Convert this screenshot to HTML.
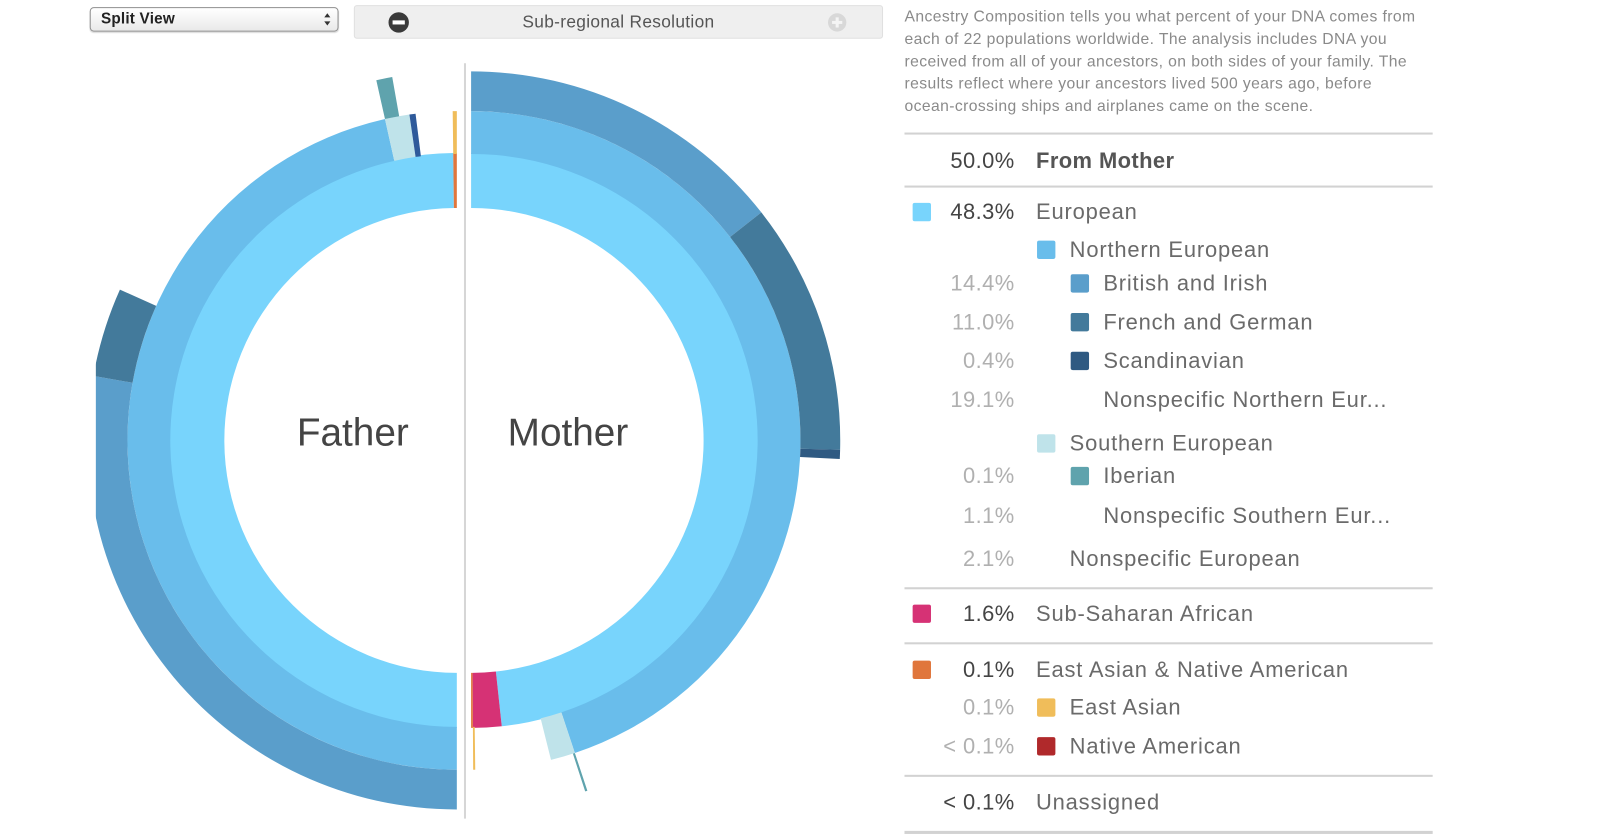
<!DOCTYPE html>
<html><head><meta charset="utf-8">
<style>
html,body{margin:0;padding:0;background:#fff;width:1600px;height:836px;overflow:hidden;font-family:"Liberation Sans",sans-serif}
#wrap{position:absolute;left:0;top:0;width:1569px;height:820px;transform:scale(1.0197,1.0195);transform-origin:0 0}
.abs{position:absolute;white-space:nowrap}
#select{left:88px;top:7px;width:242px;height:22px;border:1px solid #8e8e8e;border-radius:4px;background:linear-gradient(#fff,#e9e9e9);box-shadow:0 1px 1px rgba(0,0,0,.15)}
#select span{position:absolute;left:10px;top:2px;font-size:15px;color:#222;font-weight:bold;letter-spacing:0.2px}
#res{left:347px;top:5px;width:517px;height:31px;background:#efefef;border:1px solid #e0e0e0;border-radius:3px}
#res .t{position:absolute;left:0;width:517px;text-align:center;top:6px;font-size:17px;color:#555;letter-spacing:0.3px}
.desc{left:887px;font-size:15.4px;letter-spacing:0.4px;color:#8a8a8a}
.hr{position:absolute;left:887px;width:518px;height:2px;background:#d2d2d2}
.pct{position:absolute;width:100px;text-align:right;font-size:21.5px;letter-spacing:0.4px;left:895px}
.lab{position:absolute;font-size:21.5px;letter-spacing:0.8px;color:#6a6a6a;white-space:nowrap}
.sw{position:absolute;width:18px;height:18px;border-radius:2px}
</style></head><body>
<div id="wrap">
  <div id="select" class="abs"><span>Split View</span>
    <svg style="position:absolute;right:6px;top:3px" width="8" height="16"><path d="M4 2 L7 6 L1 6Z M4 14 L7 10 L1 10Z" fill="#333"/></svg>
  </div>
  <div id="res" class="abs">
    <svg style="position:absolute;left:32px;top:5px" width="22" height="22"><circle cx="11" cy="11" r="10" fill="#3a3a3a"/><rect x="5" y="9" width="12" height="4" fill="#fff"/></svg>
    <div class="t">Sub-regional Resolution</div>
    <svg style="position:absolute;left:463px;top:6px" width="20" height="20"><circle cx="10" cy="10" r="9" fill="#d8d8d8"/><rect x="5" y="8.5" width="10" height="3" fill="#f4f4f4"/><rect x="8.5" y="5" width="3" height="10" fill="#f4f4f4"/></svg>
  </div>

  <svg id="chart" class="abs" style="left:0;top:0" width="880" height="820">
    <defs><clipPath id="clipL"><rect x="94" y="0" width="800" height="820"/></clipPath></defs>
    <line x1="456" y1="62" x2="456" y2="803" stroke="#d6d6d6" stroke-width="2"/>
    <g id="rings" clip-path="url(#clipL)"></g>
    <text x="346" y="437" font-size="38" fill="#444" text-anchor="middle" font-family="Liberation Sans, sans-serif">Father</text>
    <text x="557" y="437" font-size="38" fill="#444" text-anchor="middle" font-family="Liberation Sans, sans-serif">Mother</text>
  </svg>

  <div class="abs desc" style="top:8px">Ancestry Composition tells you what percent of your DNA comes from</div>
  <div class="abs desc" style="top:30px">each of 22 populations worldwide. The analysis includes DNA you</div>
  <div class="abs desc" style="top:52px">received from all of your ancestors, on both sides of your family. The</div>
  <div class="abs desc" style="top:74px">results reflect where your ancestors lived 500 years ago, before</div>
  <div class="abs desc" style="top:96px">ocean-crossing ships and airplanes came on the scene.</div>

  <div class="hr" style="top:130px"></div>
  <div class="hr" style="top:182px"></div>
  <div class="hr" style="top:576px"></div>
  <div class="hr" style="top:630px"></div>
  <div class="hr" style="top:760px"></div>
  <div class="hr" style="top:815px;height:3px"></div>

  <div id="legend"></div>
</div>
<script>
// ---- chart data (percent of genome) ----
const motherRing1Labels = ["European","Sub-Saharan African","East Asian & Native American"];
const motherRing1Values = [48.3, 1.6, 0.1];
const motherRing1Colors = ["#78d4fc","#d63275","#e0763c"];
const motherRing2Labels = ["Northern European","Southern European","Nonspecific European","Sub-Saharan African","East Asian"];
const motherRing2Values = [44.9, 1.2, 2.1, 1.6, 0.1];
const motherRing2Colors = ["#69bdeb","#bfe3ea",null,null,"#f0bd5a"];
const motherRing3Labels = ["British and Irish","French and German","Scandinavian","Nonspecific Northern European","Iberian"];
const motherRing3Values = [14.4, 11.0, 0.4, 19.1, 0.1];
const motherRing3Colors = ["#5a9ecb","#437a9b","#2f5a82",null,"#5fa3ad"];

const fatherRing1Labels = ["European","East Asian & Native American"];
const fatherRing1Values = [49.8, 0.2];
const fatherRing1Colors = ["#78d4fc","#e0763c"];
const fatherRing2Labels = ["Northern European","Southern European","Scandinavian","Nonspecific European","East Asian"];
const fatherRing2Values = [46.5, 1.2, 0.3, 1.8, 0.2];
const fatherRing2Colors = ["#69bdeb","#bfe3ea","#2f5a9a",null,"#f0bd5a"];
const fatherRing3Labels = ["British and Irish","French and German","Nonspecific Northern European","Iberian"];
const fatherRing3Values = [27.8, 3.9, 14.8, 0.7];
const fatherRing3Colors = ["#5a9ecb","#437a9b",null,"#5fa3ad"];

const CY = 432, MCX = 462, FCX = 448;
const RADII = [[228,282],[281,323],[323,362]];
const angleScale = v => v / 50 * 180;

function pt(cx, r, deg, side){
  const a = deg*Math.PI/180;
  return [cx + side*r*Math.sin(a), CY - r*Math.cos(a)];
}
function arcPath(cx, r0, r1, a0, a1, side){
  const p1=pt(cx,r1,a0,side), p2=pt(cx,r1,a1,side), p3=pt(cx,r0,a1,side), p4=pt(cx,r0,a0,side);
  const large = Math.abs(a1-a0)>180?1:0;
  const sw1 = side>0 ? (a1>a0?1:0) : (a1>a0?0:1);
  const sw2 = 1-sw1;
  return `M${p1[0]},${p1[1]} A${r1},${r1} 0 ${large} ${sw1} ${p2[0]},${p2[1]} L${p3[0]},${p3[1]} A${r0},${r0} 0 ${large} ${sw2} ${p4[0]},${p4[1]} Z`;
}
const g = document.getElementById('rings');
function drawRing(labels, values, colors, ringIdx, cx, side, fromBottom, prefix){
  let cum = 0;
  values.forEach((v,i)=>{
    let a0 = angleScale(cum), a1 = angleScale(cum+v);
    cum += v;
    if(!colors[i]) return;
    if(fromBottom){ a0 = 180-a0; a1 = 180-a1; }
    const p = document.createElementNS('http://www.w3.org/2000/svg','path');
    p.setAttribute('d', arcPath(cx, RADII[ringIdx][0], RADII[ringIdx][1], a0, a1, side));
    p.setAttribute('fill', colors[i]);
    
    
    g.appendChild(p);
  });
}
drawRing(motherRing1Labels, motherRing1Values, motherRing1Colors, 0, MCX, 1, false, 'mother');
drawRing(motherRing2Labels, motherRing2Values, motherRing2Colors, 1, MCX, 1, false, 'mother');
drawRing(motherRing3Labels, motherRing3Values, motherRing3Colors, 2, MCX, 1, false, 'mother');
drawRing(fatherRing1Labels, fatherRing1Values, fatherRing1Colors, 0, FCX, -1, true, 'father');
drawRing(fatherRing2Labels, fatherRing2Values, fatherRing2Colors, 1, FCX, -1, true, 'father');
drawRing(fatherRing3Labels, fatherRing3Values, fatherRing3Colors, 2, FCX, -1, true, 'father');

// ---- legend ----
const legendRows = [
 {y:159, pct:"50.0%", label:"From Mother", lvl:0, color:null, strong:true, bold:true},
 {y:209, pct:"48.3%", label:"European", lvl:0, color:"#78d4fc", strong:true},
 {y:246, pct:"", label:"Northern European", lvl:1, color:"#69bdeb"},
 {y:279, pct:"14.4%", label:"British and Irish", lvl:2, color:"#5a9ecb"},
 {y:317, pct:"11.0%", label:"French and German", lvl:2, color:"#437a9b"},
 {y:355, pct:"0.4%", label:"Scandinavian", lvl:2, color:"#2f5a82"},
 {y:393, pct:"19.1%", label:"Nonspecific Northern Eur...", lvl:2, color:null},
 {y:436, pct:"", label:"Southern European", lvl:1, color:"#bfe3ea"},
 {y:468, pct:"0.1%", label:"Iberian", lvl:2, color:"#5fa3ad"},
 {y:507, pct:"1.1%", label:"Nonspecific Southern Eur...", lvl:2, color:null},
 {y:549, pct:"2.1%", label:"Nonspecific European", lvl:1, color:null},
 {y:603, pct:"1.6%", label:"Sub-Saharan African", lvl:0, color:"#d63275", strong:true},
 {y:658, pct:"0.1%", label:"East Asian & Native American", lvl:0, color:"#e0763c", strong:true},
 {y:695, pct:"0.1%", label:"East Asian", lvl:1, color:"#f0bd5a"},
 {y:733, pct:"< 0.1%", label:"Native American", lvl:1, color:"#b0292b"},
 {y:788, pct:"< 0.1%", label:"Unassigned", lvl:0, color:null, strong:true}
];
const leg = document.getElementById('legend');
const swX=[895,1017,1050], labX=[1016,1049,1082];
legendRows.forEach(r=>{
  const row = document.createElement('div');
  
  
  if(r.color){
    const s=document.createElement('div'); s.className='sw';
    s.style.left=swX[r.lvl]+'px'; s.style.top=(r.y-10)+'px'; s.style.background=r.color;
    
    
    row.appendChild(s);
  }
  if(r.pct){
    const p=document.createElement('div'); p.className='pct';
    p.style.top=(r.y-13)+'px'; p.style.color=r.strong?'#444':'#b0b0b0';
    p.textContent=r.pct;
    
    
    row.appendChild(p);
  }
  const l=document.createElement('div'); l.className='lab';
  l.style.left=labX[r.lvl]+'px'; l.style.top=(r.y-13)+'px';
  if(r.bold){l.style.fontWeight='bold'; l.style.color='#555'; l.style.letterSpacing='0.4px';}
  l.textContent=r.label;
  
  
  row.appendChild(l);
  leg.appendChild(row);
});
</script>
</body></html>
